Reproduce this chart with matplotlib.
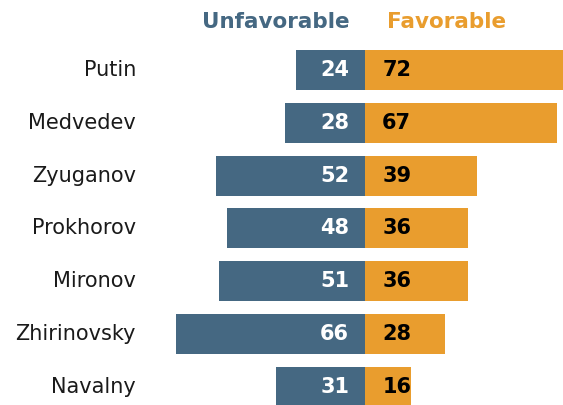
import matplotlib
matplotlib.use("Agg")
import matplotlib.pyplot as plt

# data
names = ["Putin", "Medvedev", "Zyuganov", "Prokhorov", "Mironov", "Zhirinovsky", "Navalny"]
unfavorable = [24, 28, 52, 48, 51, 66, 31]
favorable = [72, 67, 39, 36, 36, 28, 16]

BLUE = "#456882"
ORANGE = "#E99D2E"

W, H = 563, 405
fig = plt.figure(figsize=(W / 100, H / 100), dpi=100)
ax = fig.add_axes([0, 0, 1, 1])

# pixel mapping: zero at x=365, 2.87 px per point; rows at 70 + 52.8*i
px_per = 2.87
x0 = 365
ax.set_xlim(-x0 / px_per, (W - x0) / px_per)
row0, step = 70, 52.8
ax.set_ylim((H - row0) / step, -row0 / step)
ax.axis("off")

ys = list(range(len(names)))
bh = 40 / step
ax.barh(ys, [-u for u in unfavorable], height=bh, color=BLUE)
ax.barh(ys, favorable, height=bh, color=ORANGE)

name_x = (136 - x0) / px_per
for y, n, u, f in zip(ys, names, unfavorable, favorable):
    ax.text(name_x, y, n, ha="right", va="center", fontsize=15, color="#1a1a1a")
    ax.text(-5.5, y, str(u), ha="right", va="center", fontsize=15,
            fontweight="bold", color="white")
    ax.text(6, y, str(f), ha="left", va="center", fontsize=15,
            fontweight="bold", color="black")

hy = (22 - row0) / step
ax.text((350 - x0) / px_per, hy, "Unfavorable", ha="right", va="center",
        fontsize=15.5, fontweight="bold", color=BLUE)
ax.text((387 - x0) / px_per, hy, "Favorable", ha="left", va="center",
        fontsize=15.5, fontweight="bold", color=ORANGE)

fig.savefig("out.png", dpi=100)
